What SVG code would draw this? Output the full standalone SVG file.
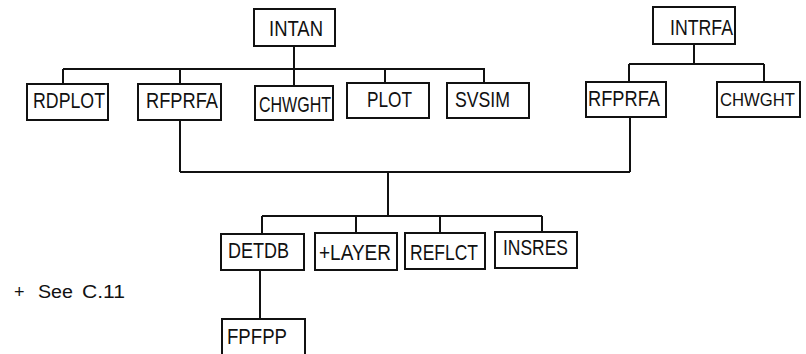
<svg xmlns="http://www.w3.org/2000/svg" width="806" height="354" viewBox="0 0 806 354">
<style>
.box{fill:#fff;stroke:#111;stroke-width:2}
.lbl{font-family:"Liberation Sans",Arial,sans-serif;font-size:22px;fill:#111}
.con{stroke:#111;stroke-width:2;fill:none}
.note{font-family:"Liberation Sans",Arial,sans-serif;font-size:18px;fill:#111}
</style>
<rect width="806" height="354" fill="#fff"/>
<g id="connectors">
<path class="con" d="M294 46V86M63 69H484M63 69V84M180 69V84M385 68V83M484 68V83"/>
<path class="con" d="M694 44V64M629 64H764M629 64V82M764 64V82"/>
<path class="con" d="M180 120V172M630 117V172M180 172H630M388 172V216M262 216H542M262 216V234M356 216V233M440 216V233M542 216V232"/>
<path class="con" d="M260 270V319"/>
</g>
<g id="INTAN"><rect class="box" x="254" y="9" width="81" height="37"/><text class="lbl" x="269" y="36" textLength="54" lengthAdjust="spacingAndGlyphs">INTAN</text></g>
<g id="RDPLOT"><rect class="box" x="27" y="84" width="81" height="36"/><text class="lbl" x="33" y="108" textLength="72" lengthAdjust="spacingAndGlyphs">RDPLOT</text></g>
<g id="RFPRFA1"><rect class="box" x="138" y="84" width="83" height="36"/><text class="lbl" x="146" y="108" textLength="72" lengthAdjust="spacingAndGlyphs">RFPRFA</text></g>
<g id="CHWGHT1"><rect class="box" x="255" y="86" width="78" height="34"/><text class="lbl" x="259" y="112" textLength="72" lengthAdjust="spacingAndGlyphs">CHWGHT</text></g>
<g id="PLOT"><rect class="box" x="347" y="83" width="82" height="35"/><text class="lbl" x="367" y="107" textLength="45" lengthAdjust="spacingAndGlyphs">PLOT</text></g>
<g id="SVSIM"><rect class="box" x="447" y="83" width="82" height="35"/><text class="lbl" x="455" y="107" textLength="55" lengthAdjust="spacingAndGlyphs">SVSIM</text></g>
<g id="INTRFA"><rect class="box" x="653" y="7" width="82" height="37"/><text class="lbl" x="670" y="35" textLength="63" lengthAdjust="spacingAndGlyphs">INTRFA</text></g>
<g id="RFPRFA2"><rect class="box" x="586" y="82" width="80" height="35"/><text class="lbl" x="588" y="106" textLength="72" lengthAdjust="spacingAndGlyphs">RFPRFA</text></g>
<g id="CHWGHT2"><rect class="box" x="717" y="82" width="83" height="35"/><text class="lbl" x="720" y="106" style="font-size:19px" textLength="75" lengthAdjust="spacingAndGlyphs">CHWGHT</text></g>
<g id="DETDB"><rect class="box" x="221" y="234" width="83" height="36"/><text class="lbl" x="228" y="258" textLength="61" lengthAdjust="spacingAndGlyphs">DETDB</text></g>
<g id="LAYER"><rect class="box" x="315" y="233" width="82" height="37"/><text class="lbl" x="319" y="260" textLength="72" lengthAdjust="spacingAndGlyphs">+LAYER</text></g>
<g id="REFLCT"><rect class="box" x="405" y="233" width="80" height="36"/><text class="lbl" x="410" y="260" textLength="68" lengthAdjust="spacingAndGlyphs">REFLCT</text></g>
<g id="INSRES"><rect class="box" x="495" y="232" width="82" height="36"/><text class="lbl" x="503" y="255" textLength="65" lengthAdjust="spacingAndGlyphs">INSRES</text></g>
<g id="FPFPP"><rect class="box" x="222" y="319" width="83" height="42"/><text class="lbl" x="227" y="344" textLength="60" lengthAdjust="spacingAndGlyphs">FPFPP</text></g>
<g id="note"><text class="note" y="298"><tspan x="14">+</tspan> <tspan x="38" textLength="35" lengthAdjust="spacingAndGlyphs">See</tspan> <tspan x="82" textLength="43" lengthAdjust="spacingAndGlyphs">C.11</tspan></text></g>
</svg>
